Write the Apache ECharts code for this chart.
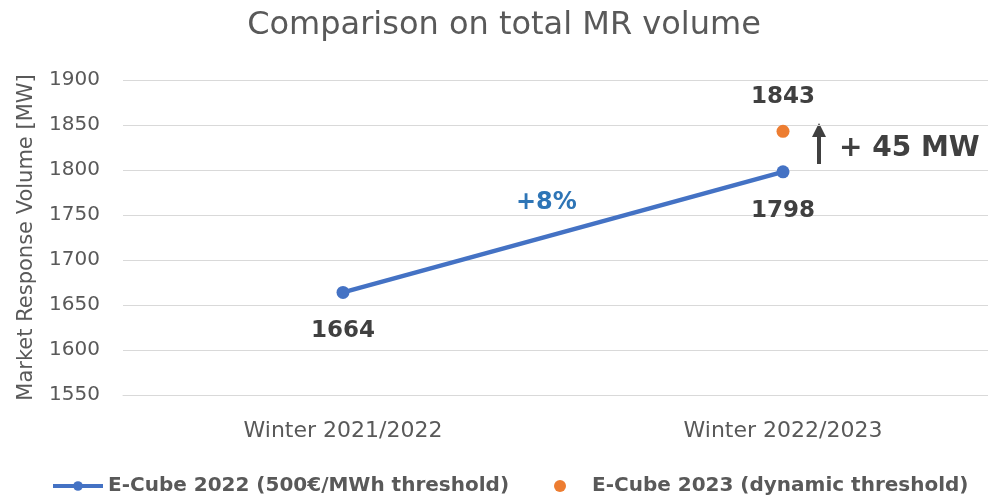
<!DOCTYPE html>
<html>
<head>
<meta charset="utf-8">
<script src="https://cdn.jsdelivr.net/npm/echarts@6/dist/echarts.min.js"></script>
<style>
  html, body { margin: 0; padding: 0; background: #fff; }
  #main { width: 988px; height: 501px; }
</style>
</head>
<body>
<div id="main"></div>
<script>
  // data
  const categories = ['Winter 2021/2022', 'Winter 2022/2023'];
  const ecube2022 = [1664, 1798];
  const ecube2023 = [null, 1843];
  const seriesNames = ['E-Cube 2022 (500€/MWh threshold)', 'E-Cube 2023 (dynamic threshold)'];

  const font = 'DejaVu Sans';
  const grey = '#595959';
  const dark = '#404040';

  const legendText = { fontFamily: font, fontSize: 20, fontWeight: 'bold', color: grey };

  let myChart = echarts.init(document.getElementById('main'));
  myChart.setOption({
    animation: false,
    title: {
      text: 'Comparison on total MR volume',
      left: 499,
      textAlign: 'center',
      top: 5,
      textStyle: { fontFamily: font, fontSize: 32, fontWeight: 'normal', color: grey }
    },
    legend: [
      {
        bottom: 0, left: 46, itemWidth: 50, itemHeight: 12,
        lineStyle: { width: 4 },
        textStyle: legendText, data: [seriesNames[0]]
      },
      {
        bottom: 0, left: 549, itemWidth: 54, itemHeight: 12,
        textStyle: legendText, data: [seriesNames[1]]
      }
    ],
    grid: { left: 123, top: 80, height: 315, width: 880, outerBoundsMode: 'none' },
    xAxis: {
      type: 'category',
      data: categories,
      axisTick: { show: false },
      axisLine: { lineStyle: { color: '#d9d9d9', width: 1 } },
      axisLabel: { fontFamily: font, fontSize: 22, color: grey, margin: 25 }
    },
    yAxis: {
      type: 'value',
      min: 1550,
      max: 1900,
      interval: 50,
      name: 'Market Response Volume [MW]',
      nameLocation: 'middle',
      nameGap: 86,
      nameTextStyle: { fontFamily: font, fontSize: 21, color: grey },
      axisLabel: { fontFamily: font, fontSize: 20, color: grey, margin: 23, formatter: v => String(v) },
      splitLine: { lineStyle: { color: '#d9d9d9', width: 1 } }
    },
    series: [
      {
        name: seriesNames[0],
        type: 'line',
        data: ecube2022,
        symbol: 'circle',
        symbolSize: 13,
        lineStyle: { color: '#4472C4', width: 4.5 },
        itemStyle: { color: '#4472C4' },
        label: {
          show: true,
          position: 'bottom',
          distance: 21,
          fontFamily: font, fontSize: 23, fontWeight: 'bold', color: dark
        }
      },
      {
        name: seriesNames[1],
        type: 'scatter',
        data: ecube2023,
        symbol: 'circle',
        symbolSize: 13,
        itemStyle: { color: '#ED7D31', opacity: 1 },
        label: {
          show: true,
          position: 'top',
          distance: 16,
          fontFamily: font, fontSize: 23, fontWeight: 'bold', color: dark
        }
      }
    ],
    graphic: [
      {
        type: 'text', left: 516, top: 191,
        style: { text: '+8%', fontFamily: font, fontSize: 24, fontWeight: 'bold', fill: '#2E75B6' }
      },
      {
        type: 'text', left: 839, top: 135,
        style: { text: '+ 45 MW', fontFamily: font, fontSize: 28, fontWeight: 'bold', fill: dark }
      },
      {
        type: 'line',
        shape: { x1: 819, y1: 164, x2: 819, y2: 134 },
        style: { stroke: dark, lineWidth: 4 }
      },
      {
        type: 'polygon',
        shape: { points: [[812, 137], [826, 137], [819, 123]] },
        style: { fill: dark }
      }
    ]
  });
</script>
</body>
</html>
